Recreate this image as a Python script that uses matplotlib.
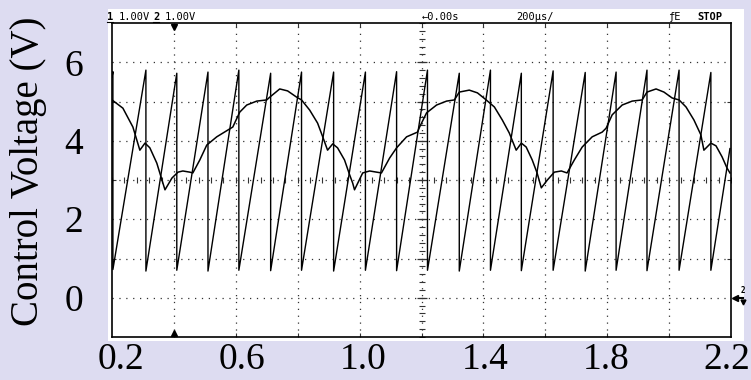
import matplotlib
matplotlib.use("Agg")
import matplotlib.pyplot as plt
import numpy as np
from matplotlib.patches import Rectangle

# ---- data (time in ms, voltage in V) ----
X_LO, X_HI = 0.169, 2.2135
Y_LO, Y_HI = -1.0, 7.0

X_TICKS = [0.2, 0.6, 1.0, 1.4, 1.8, 2.2]
X_TICK_LABELS = ["0.2", "0.6", "1.0", "1.4", "1.8", "2.2"]
Y_TICKS = [0, 2, 4, 6]
Y_TICK_LABELS = ["0", "2", "4", "6"]

# channel 1: sawtooth, reset instants with level just before / after reset
SAW_START = (0.169, 5.62)
RESET_T = [0.172, 0.281, 0.383, 0.486, 0.588, 0.693, 0.795, 0.901, 1.006, 1.109,
           1.211, 1.316, 1.419, 1.521, 1.626, 1.732, 1.834, 1.936, 2.042, 2.147]
PEAK_V = [5.76, 5.80, 5.72, 5.75, 5.80, 5.72, 5.75, 5.75, 5.75, 5.76,
          5.80, 5.72, 5.80, 5.72, 5.78, 5.74, 5.75, 5.80, 5.80, 5.74]
TROUGH_V = [0.72, 0.68, 0.70, 0.68, 0.70, 0.69, 0.70, 0.68, 0.70, 0.69,
            0.70, 0.68, 0.70, 0.69, 0.70, 0.68, 0.70, 0.69, 0.70, 0.70]
SAW_END = (2.210, 3.80)

# channel 2: control voltage envelope
ENV_T = [0.169, 0.205, 0.238, 0.261, 0.278, 0.294, 0.317, 0.334, 0.344, 0.367,
         0.387, 0.403, 0.426, 0.436, 0.459, 0.482, 0.515, 0.551, 0.568, 0.591,
         0.614, 0.647, 0.680, 0.690, 0.723, 0.749, 0.779, 0.795, 0.822, 0.848,
         0.865, 0.881, 0.898, 0.914, 0.937, 0.954, 0.964, 0.970, 0.997, 1.020,
         1.043, 1.059, 1.086, 1.109, 1.142, 1.178, 1.185, 1.208, 1.241, 1.274,
         1.300, 1.316, 1.349, 1.376, 1.405, 1.432, 1.458, 1.481, 1.504, 1.521,
         1.537, 1.557, 1.573, 1.587, 1.607, 1.630, 1.653, 1.672, 1.696, 1.722,
         1.755, 1.788, 1.801, 1.821, 1.854, 1.887, 1.920, 1.936, 1.966, 1.992,
         2.019, 2.042, 2.065, 2.091, 2.114, 2.124, 2.147, 2.164, 2.184, 2.200,
         2.210]
ENV_V = [5.04, 4.83, 4.35, 3.76, 3.94, 3.82, 3.43, 3.00, 2.75, 3.05,
         3.20, 3.23, 3.20, 3.18, 3.51, 3.89, 4.10, 4.27, 4.35, 4.73,
         4.91, 5.01, 5.04, 5.11, 5.32, 5.27, 5.11, 5.04, 4.78, 4.45,
         4.10, 3.76, 3.92, 3.82, 3.51, 3.13, 2.92, 2.75, 3.18, 3.23,
         3.20, 3.18, 3.56, 3.82, 4.10, 4.22, 4.35, 4.71, 4.91, 5.01,
         5.04, 5.24, 5.29, 5.22, 5.04, 4.86, 4.53, 4.20, 3.76, 3.94,
         3.84, 3.51, 3.18, 2.80, 3.00, 3.20, 3.23, 3.18, 3.51, 3.84,
         4.10, 4.22, 4.32, 4.66, 4.91, 5.01, 5.04, 5.24, 5.32, 5.24,
         5.09, 5.04, 4.86, 4.53, 4.15, 3.76, 3.94, 3.87, 3.59, 3.31,
         3.18]

BG = "#dddcf1"
SERIF = ["Liberation Serif", "DejaVu Serif"]
MONO = ["DejaVu Sans Mono"]

W, H = 751, 380
fig = plt.figure(figsize=(W / 100, H / 100), dpi=100, facecolor=BG)

# white area of the screen capture
fig.patches.append(Rectangle((108 / W, 1 - 341 / H), (744 - 108) / W, (341 - 9) / H,
                             transform=fig.transFigure, facecolor="white",
                             edgecolor="none", zorder=-1))

ax = fig.add_axes([112 / W, 1 - 337 / H, (731 - 112) / W, (337 - 23) / H])
ax.set_facecolor("white")
ax.set_xlim(X_LO, X_HI)
ax.set_ylim(Y_LO, Y_HI)
for sp in ax.spines.values():
    sp.set_color("black")
    sp.set_linewidth(1.2)

# scope graticule: 10 x 8 divisions
div_x = np.linspace(X_LO, X_HI, 11)[1:-1]
div_y = np.linspace(Y_LO, Y_HI, 9)[1:-1]
dots = (0, (1, 4.5))
for x in div_x:
    ax.axvline(x, color="#333333", lw=0.9, ls=dots, zorder=1)
for y in div_y:
    ax.axhline(y, color="#333333", lw=0.9, ls=dots, zorder=1)

# centre-line sub-division ticks
xc = div_x[4]
yc = div_y[3]
sub_y = np.linspace(Y_LO, Y_HI, 41)
sub_x = np.linspace(X_LO, X_HI, 51)
ax.plot(np.full(sub_y.size, xc), sub_y, ls="none", marker="_", ms=4, mew=0.8,
        color="#333333", zorder=1)
ax.plot(np.full(div_y.size, xc), div_y, ls="none", marker="_", ms=7, mew=0.9,
        color="#333333", zorder=1)
ax.plot(sub_x, np.full(sub_x.size, yc), ls="none", marker="|", ms=4, mew=0.8,
        color="#333333", zorder=1)

# traces
saw_t = [SAW_START[0]]
saw_v = [SAW_START[1]]
for t, vp, vt in zip(RESET_T, PEAK_V, TROUGH_V):
    saw_t += [t, t]
    saw_v += [vp, vt]
saw_t.append(SAW_END[0])
saw_v.append(SAW_END[1])
ax.plot(saw_t, saw_v, color="black", lw=1.0, zorder=3)
ax.plot(ENV_T, ENV_V, color="black", lw=1.1, zorder=3)

# trigger position markers and ground marker
trans_x = ax.get_xaxis_transform()
ax.plot([div_x[0]], [0.988], marker="v", ms=5, color="black", transform=trans_x,
        clip_on=False, zorder=4)
ax.plot([div_x[0]], [0.012], marker="^", ms=5, color="black", transform=trans_x,
        clip_on=False, zorder=4)
trans_y = ax.get_yaxis_transform()
ax.plot([1.006], [0], marker="<", ms=5, color="black", transform=trans_y,
        clip_on=False)
ax.plot([1.006, 1.02], [0, 0], color="black", lw=1.5, transform=trans_y, clip_on=False)
ax.plot([1.02], [-0.12], marker="v", ms=3.5, color="black", transform=trans_y,
        clip_on=False)
ax.text(1.02, 0.08, "2", transform=trans_y, fontsize=5.5, fontweight="bold",
        family=MONO, ha="center", va="bottom")

# ticks: labels at 0.2 ... 2.2, graticule marks on the frame
ax.set_xticks(X_TICKS)
ax.set_xticklabels(X_TICK_LABELS)
ax.set_yticks(Y_TICKS)
ax.set_yticklabels(Y_TICK_LABELS)
ax.set_xticks(div_x, minor=True)
ax.set_yticks(div_y, minor=True)
ax.tick_params(which="major", length=0, labelsize=27)
ax.tick_params(axis="x", which="major", pad=4)
ax.tick_params(axis="y", which="major", pad=21)
ax.tick_params(which="minor", direction="in", length=3, width=0.8,
               top=True, right=True, color="#333333")
for lab in ax.get_xticklabels() + ax.get_yticklabels():
    lab.set_family(SERIF)

fig.text(29 / W, 1 - 171 / H, "Control Voltage (V)", rotation=90, ha="center",
         va="center", fontsize=28, family=SERIF)

# scope status line
base = 1 - 19.5 / H
header = [
    (107, "1", "bold"), (119, "1.00V", "normal"),
    (153, "2", "bold"), (165, "1.00V", "normal"),
    (422, "\u21900.00s", "normal"), (516, "200\u00b5s/", "normal"),
    (668, "\u0192E", "normal"), (697, "STOP", "bold"),
]
for xpix, txt, wt in header:
    fig.text(xpix / W, base, txt, fontsize=7.5, family=MONO, fontweight=wt,
             ha="left", va="baseline")
# underline under the channel numbers
for xpix in (107, 153):
    fig.add_artist(plt.Line2D([xpix / W, (xpix + 6) / W], [base - 2 / H, base - 2 / H],
                              transform=fig.transFigure, color="black", lw=0.8))

fig.savefig("out.png", dpi=100, facecolor=BG)
